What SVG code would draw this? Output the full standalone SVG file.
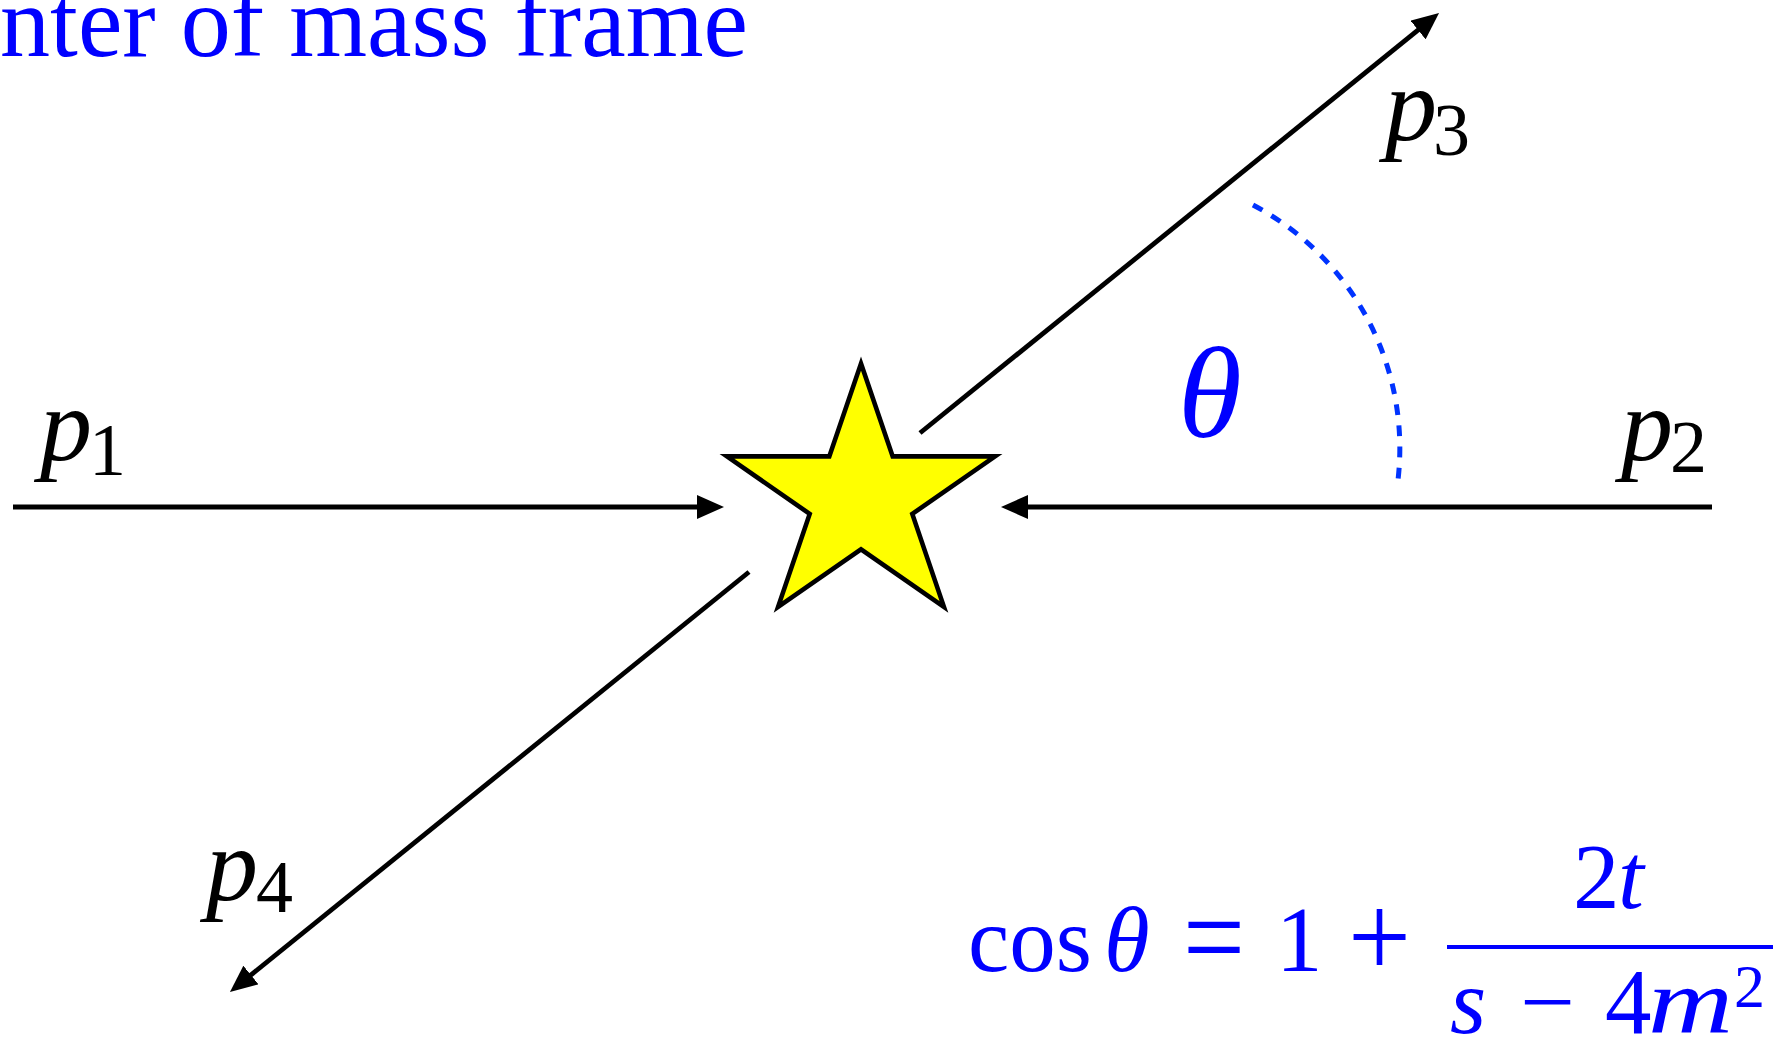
<svg xmlns="http://www.w3.org/2000/svg" width="1782" height="1041" viewBox="0 0 1782 1041">
<style>
  .lbl { font-family: "Liberation Serif", "Times New Roman", serif; fill: #000; }
  .blue { font-family: "Liberation Serif", "Times New Roman", serif; fill: #0000ff; }
  .it { font-style: italic; }
  .up { font-style: normal; }
  .line { stroke: #000; stroke-width: 4.8; fill: none; }
</style>
<defs>
  <marker id="arrow" viewBox="0 0 27 24" markerWidth="27" markerHeight="24" refX="7" refY="12" orient="auto" markerUnits="userSpaceOnUse">
    <path d="M0,0 L27,12 L0,24 z" fill="#000"/>
  </marker>
</defs>
<rect width="1782" height="1041" fill="#fff"/>

<g id="title">
  <text class="blue" x="0" y="56" font-size="101" textLength="748" lengthAdjust="spacingAndGlyphs">nter of mass frame</text>
</g>

<g id="connectors">
  <line class="line" x1="13" y1="507" x2="704" y2="507" marker-end="url(#arrow)"/>
  <line class="line" x1="1712" y1="507" x2="1021" y2="507" marker-end="url(#arrow)"/>
  <line class="line" x1="920" y1="433" x2="1423.5" y2="25.6" marker-end="url(#arrow)"/>
  <line class="line" x1="749" y1="572" x2="245.5" y2="979.4" marker-end="url(#arrow)"/>
  <path id="angle-arc" d="M1253,205 A275,275 0 0 1 1398,480" fill="none" stroke="#0033ff" stroke-width="5" stroke-dasharray="10.8 10.4"/>
</g>

<g id="star">
  <path d="M861,363.5 L892.7,456.4 L995.1,456.4 L912.3,513.9 L943.9,606.8 L861,549.4 L778.1,606.8 L809.7,513.9 L726.9,456.4 L829.3,456.4 Z" fill="#ffff00" stroke="#000" stroke-width="4.6" stroke-miterlimit="10"/>
</g>

<g id="p1">
  <text class="lbl it" x="40" y="460" font-size="104">p<tspan class="up" x="89" y="475" font-size="74">1</tspan></text>
</g>
<g id="p2">
  <text class="lbl it" x="1621" y="460" font-size="104">p<tspan class="up" x="1670" y="472" font-size="74">2</tspan></text>
</g>
<g id="p3">
  <text class="lbl it" x="1385" y="140" font-size="104">p<tspan class="up" x="1433" y="155" font-size="74">3</tspan></text>
</g>
<g id="p4">
  <text class="lbl it" x="206" y="900" font-size="104">p<tspan class="up" x="256" y="912" font-size="74">4</tspan></text>
</g>

<g id="theta">
  <text class="blue it" x="1178" y="437" font-size="130">θ</text>
</g>

<g id="formula">
  <text class="blue" x="968" y="971" font-size="93">cos</text>
  <text class="blue it" x="1104" y="971" font-size="93">θ</text>
  <text class="blue" x="1183" y="979" font-size="125" textLength="62" lengthAdjust="spacingAndGlyphs">=</text>
  <text class="blue" x="1276" y="971" font-size="93">1</text>
  <text class="blue" x="1348" y="977" font-size="120" textLength="63" lengthAdjust="spacingAndGlyphs">+</text>
  <text class="blue" x="1573" y="908" font-size="93">2<tspan class="it" x="1618">t</tspan></text>
  <line x1="1447" y1="947" x2="1773" y2="947" stroke="#0000ff" stroke-width="4"/>
  <text class="blue it" x="1450" y="1033" font-size="93">s</text>
  <text class="blue" x="1520" y="1033" font-size="93" textLength="55" lengthAdjust="spacingAndGlyphs">−</text>
  <text class="blue" x="1605" y="1033" font-size="93">4</text>
  <text class="blue it" x="1648" y="1033" font-size="93" textLength="85" lengthAdjust="spacingAndGlyphs">m</text>
  <text class="blue" x="1734" y="1007" font-size="62">2</text>
</g>
</svg>
